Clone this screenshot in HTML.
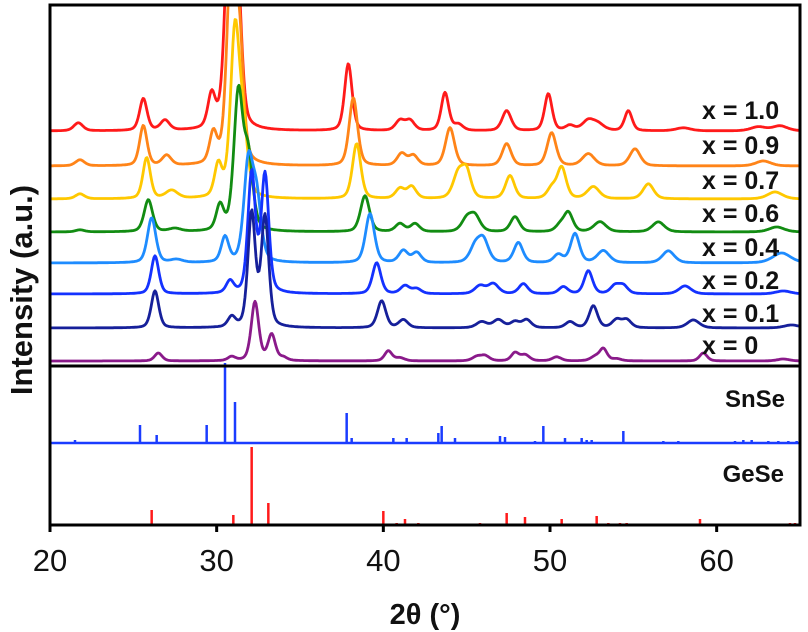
<!DOCTYPE html>
<html><head><meta charset="utf-8">
<style>html,body{margin:0;padding:0;background:#fff}svg{display:block}</style>
</head><body>
<svg id="chart" width="808" height="632" viewBox="0 0 808 632" xmlns="http://www.w3.org/2000/svg" font-family="Liberation Sans, sans-serif">
<defs><clipPath id="topclip"><rect x="50" y="5" width="750" height="361"/></clipPath></defs>
<g id="series" clip-path="url(#topclip)"></g>
<g id="sticks"></g>
<g id="axes"></g>
<g id="labels"></g>
</svg>
<script>
const xTicks = [20,30,40,50,60];
const seriesNames = ["x = 1.0","x = 0.9","x = 0.7","x = 0.6","x = 0.4","x = 0.2","x = 0.1","x = 0"];
const seriesColors = ["#ff1a1a","#ff8418","#ffc800","#128c12","#1e8cff","#1432ff","#16209a","#8a1a8a"];
const seriesOffsets = [230,195,162,129,98,67,33,0];
const labelY = [110,145,180,213,247,280,313,345];
// peak centers (2θ), heights (a.u.), widths (deg)
const peakPos = [
 [21.7,25.6,26.9,29.7,30.8,31.3,37.9,41.0,41.6,43.7,44.5,47.4,49.9,51.2,52.3,52.9,54.7,58.0,62.5,63.8],
 [21.8,25.6,27.0,29.8,30.9,31.4,38.2,41.1,41.8,44.0,47.4,50.1,52.3,55.1,62.8],
 [21.8,25.8,27.3,30.1,31.1,31.6,38.4,41.0,41.7,44.5,45.0,47.6,50.1,50.7,52.6,55.9,63.5],
 [21.8,25.9,27.5,30.2,31.3,31.9,38.9,41.0,41.9,45.0,45.5,47.9,50.6,51.1,53.0,56.5,63.6],
 [26.1,27.6,30.5,31.9,32.4,39.2,41.2,42.0,45.5,46.0,48.1,50.5,51.5,53.2,57.1,63.9],
 [26.3,30.8,32.1,32.9,39.6,41.3,42.0,45.8,46.6,48.4,50.8,52.3,53.9,54.4,58.1,64.0],
 [26.3,30.9,32.1,32.9,39.9,41.2,45.9,46.9,47.9,48.6,51.2,52.6,54.0,54.6,58.6,64.5],
 [26.5,30.9,32.3,33.3,34.0,40.3,41.0,45.6,46.1,47.9,48.5,50.4,52.7,53.2,54.0,59.2,64.0]
];
const peakHeight = [
 [8,32,10,33,240,110,67,10,10,38,6,20,37,5,10,6,20,3,4,5],
 [6,40,10,30,220,100,68,12,10,38,22,33,12,17,5],
 [5,41,8,32,165,60,55,10,12,25,25,23,10,31,12,15,7],
 [2,32,3,25,136,70,36,8,8,12,15,15,6,19,10,10,5],
 [45,3,25,97,60,49,12,10,15,22,20,8,29,12,12,10],
 [38,12,120,118,31,8,5,8,10,10,7,23,8,8,8,3],
 [37,10,114,110,27,8,6,8,6,8,6,22,8,8,8,3],
 [8,4,59,26,3,10,3,4,5,8,6,4,4,12,2,8,2]
];
const peakWidth = [
 [.3,.25,.3,.25,.3,.25,.25,.3,.3,.25,.3,.3,.25,.3,.4,.4,.25,.5,.5,.5],
 [.3,.25,.3,.25,.3,.25,.28,.3,.3,.3,.3,.3,.4,.35,.5],
 [.3,.25,.4,.25,.3,.3,.28,.3,.3,.35,.3,.3,.3,.3,.4,.35,.5],
 [.3,.28,.4,.25,.3,.3,.3,.3,.3,.35,.35,.3,.3,.3,.4,.4,.5],
 [.28,.4,.25,.3,.3,.3,.3,.3,.35,.35,.3,.3,.3,.4,.4,.6],
 [.25,.25,.25,.25,.28,.3,.3,.35,.35,.3,.3,.28,.3,.3,.4,.5],
 [.25,.25,.25,.25,.28,.3,.35,.35,.3,.3,.3,.28,.3,.3,.4,.5],
 [.25,.25,.25,.25,.25,.25,.3,.3,.3,.25,.3,.3,.3,.25,.3,.25,.4]
];
const snsePos = [21.5,25.4,26.4,29.4,30.5,31.1,37.1,37.8,38.1,40.6,41.4,43.3,43.5,44.3,47.0,47.3,49.1,49.6,50.9,51.9,52.2,52.5,54.4,56.8,57.7,61.1,61.6,62.1,63.1,63.7,64.3,64.8];
const snseInt = [3,18,8,18,80,41,1,30,5,5,5,10,17,5,7,6,2,17,5,5,3,3,12,2,2,2,3,3,2,2,2,2];
const gesePos = [26.1,31.0,32.1,33.1,40.0,40.8,41.3,42.1,45.8,47.4,48.5,50.7,52.8,53.5,54.2,54.6,59.0,64.4,64.7];
const geseInt = [15,10,78,22,14,2,6,2,2,12,8,6,9,2,2,2,6,2,2];

const NS='http://www.w3.org/2000/svg';
const X0=50,X1=800,xMin=20,xMax=65;
const xs = v => X0 + (v-xMin)/(xMax-xMin)*(X1-X0);
const topBase = 361;
const ySeries = (i,v) => topBase - seriesOffsets[i] - v;
const WF = 1.3;
function mk(tag, attrs, parent){const e=document.createElementNS(NS,tag);for(const k in attrs)e.setAttribute(k,attrs[k]);parent.appendChild(e);return e;}

const gS=document.getElementById('series');
for(let i=0;i<seriesNames.length;i++){
  let d='';
  for(let px=X0;px<=X1;px+=1){
    const t=xMin+(px-X0)/(X1-X0)*(xMax-xMin);
    let v=0;
    for(let k=0;k<peakPos[i].length;k++){const w=peakWidth[i][k]*WF;const z=(t-peakPos[i][k])/w;v+=peakHeight[i][k]/(1+z*z*1.6)*0.4+peakHeight[i][k]*Math.exp(-z*z)*0.6;}
    d+=(px===X0?'M':'L')+px+','+ySeries(i,v).toFixed(1);
  }
  const p=mk('path',{d:d,fill:'none',stroke:seriesColors[i],'stroke-width':2.8,'stroke-linejoin':'round'},gS);
  
  
}
const gR=document.getElementById('sticks');
const snBase=443, geBase=525;
const sb=mk('line',{x1:X0,x2:X1,y1:snBase,y2:snBase,stroke:'#1a3cff','stroke-width':2.5},gR);


for(let k=0;k<snsePos.length;k++){
  const l=mk('line',{x1:xs(snsePos[k]),x2:xs(snsePos[k]),y1:snBase,y2:snBase-snseInt[k],stroke:'#1a3cff','stroke-width':2.5},gR);
  
  
}
for(let k=0;k<gesePos.length;k++){
  const l=mk('line',{x1:xs(gesePos[k]),x2:xs(gesePos[k]),y1:geBase,y2:geBase-geseInt[k],stroke:'#ff1a1a','stroke-width':2.5},gR);
  
  
}
const gA=document.getElementById('axes');
const frame=mk('rect',{x:X0,y:5,width:X1-X0,height:geBase-5,fill:'none',stroke:'#000','stroke-width':3},gA);


const div=mk('line',{x1:X0,x2:X1,y1:366,y2:366,stroke:'#000','stroke-width':3},gA);


for(const t of xTicks){
  const tk=mk('line',{x1:xs(t),x2:xs(t),y1:geBase,y2:geBase+7,stroke:'#000','stroke-width':3},gA);
  
  
  const tl=mk('text',{x:xs(t),y:571,'text-anchor':'middle','font-size':31,fill:'#111'},gA);
  tl.textContent=t;
  
  
}
const gL=document.getElementById('labels');
for(let i=0;i<seriesNames.length;i++){
  const t=mk('text',{x:702,y:labelY[i]+9,'font-size':25,'font-weight':'bold',fill:'#111'},gL);
  t.textContent=seriesNames[i];
  
  
}
const sn=mk('text',{x:785,y:407,'text-anchor':'end','font-size':24,'font-weight':'bold',fill:'#111'},gL);
sn.textContent='SnSe';


const ge=mk('text',{x:784,y:482,'text-anchor':'end','font-size':24,'font-weight':'bold',fill:'#111'},gL);
ge.textContent='GeSe';


const xt=mk('text',{x:425,y:624,'text-anchor':'middle','font-size':29,'font-weight':'bold',fill:'#111'},gL);
xt.textContent='2θ (°)';


const yt=mk('text',{x:0,y:0,'text-anchor':'middle','font-size':31,'font-weight':'bold',fill:'#111',transform:'translate(32,290) rotate(-90)'},gL);
yt.textContent='Intensity (a.u.)';


</script>
</body></html>
